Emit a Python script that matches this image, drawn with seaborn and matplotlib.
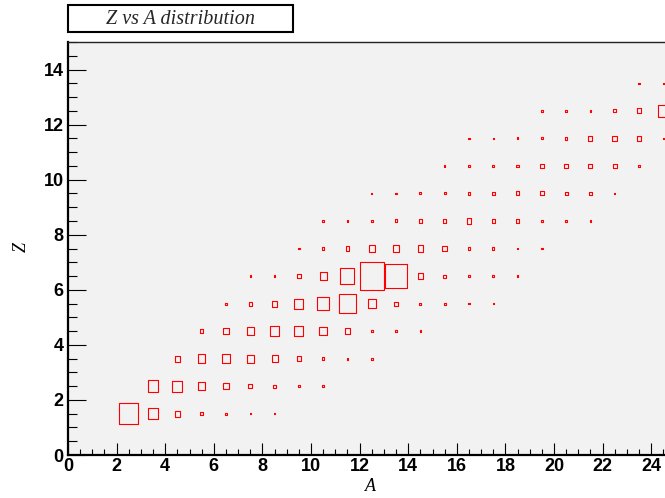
"""Z vs A distribution drawn as a ROOT-style box histogram."""
import matplotlib.pyplot as plt
import matplotlib.patches as mpatches
from matplotlib.ticker import MultipleLocator
import numpy as np
import pandas as pd
import seaborn as sns

# ---------------------------------------------------------------------------
# Data: bin contents per Z row (bin centres), starting at a_start
# ---------------------------------------------------------------------------
z_rows = [1.5, 2.5, 3.5, 4.5, 5.5, 6.5, 7.5, 8.5, 9.5, 10.5, 11.5, 12.5, 13.5]
a_start = [2.5, 3.5, 4.5, 5.5, 6.5, 7.5, 9.5, 10.5, 12.5, 15.5, 16.5, 19.5, 23.5]
row_counts = [
    [593, 176, 48, 17, 6, 3, 3],
    [176, 160, 90, 53, 26, 12, 4, 4],
    [48, 96, 109, 90, 63, 36, 12, 5, 4],
    [17, 48, 73, 116, 130, 96, 36, 10, 5, 3],
    [5, 20, 48, 130, 240, 504, 116, 20, 6, 5, 3, 3],
    [3, 6, 26, 78, 336, 1000, 810, 36, 12, 6, 4, 3],
    [3, 6, 23, 58, 68, 48, 36, 12, 6, 5, 3],
    [3, 3, 6, 12, 23, 23, 36, 20, 20, 6, 5, 3],
    [3, 3, 5, 6, 12, 14, 20, 20, 14, 10, 3],
    [3, 5, 6, 10, 20, 23, 26, 26, 3],
    [3, 3, 5, 6, 12, 26, 40, 36, 3],
    [3, 3, 6, 14, 29, 176],
    [3, 3],
]

records = []
for z, a0, counts in zip(z_rows, a_start, row_counts):
    for i, c in enumerate(counts):
        records.append({"A": a0 + i, "Z": z, "count": c})
df = pd.DataFrame(records)

# ---------------------------------------------------------------------------
# Figure
# ---------------------------------------------------------------------------
sns.set_style("ticks")
plt.rcParams["font.family"] = ["Liberation Sans", "DejaVu Sans"]

DPI = 100
fig = plt.figure(figsize=(6.65, 4.98), dpi=DPI)
ax_left, ax_bottom = 68 / 665, 43 / 498
ax_w, ax_h = 1 - ax_left, 413 / 498
ax = fig.add_axes([ax_left, ax_bottom, ax_w, ax_h])
ax.set_facecolor("#f2f2f2")

x_max = 597 / 24.3
y_max = 15

# box marker with the aspect of one bin; full bin height in points -> max area
unit_w_px = ax_w * 665 / x_max
unit_h_px = ax_h * 498 / y_max
ratio = unit_w_px / unit_h_px
box = [(-ratio, -1), (ratio, -1), (ratio, 1), (-ratio, 1), (-ratio, -1)]
s_max = (unit_h_px * 72 / DPI) ** 2

sns.scatterplot(data=df, x="A", y="Z", size="count", sizes=(0, s_max),
                size_norm=(0, df["count"].max()), marker=box, color="red",
                edgecolor="red", linewidth=0.8, legend=False, ax=ax)
ax.collections[0].set_facecolor("none")

ax.set_xlim(0, x_max)
ax.set_ylim(0, y_max)

ax.xaxis.set_major_locator(MultipleLocator(2))
ax.xaxis.set_minor_locator(MultipleLocator(0.5))
ax.yaxis.set_major_locator(MultipleLocator(2))
ax.yaxis.set_minor_locator(MultipleLocator(0.5))
ax.set_yticks(np.arange(0, 15, 2))

ax.tick_params(axis="x", which="major", direction="in", length=8.6, width=0.8,
               pad=2, labelsize=13, color="black", labelcolor="black")
ax.tick_params(axis="x", which="minor", direction="in", length=4.3, width=0.8,
               color="black")
ax.tick_params(axis="y", which="major", direction="in", length=12.7, width=0.8,
               pad=3, labelsize=13, color="black", labelcolor="black")
ax.tick_params(axis="y", which="minor", direction="in", length=6.4, width=0.8,
               color="black")
for lab in ax.get_xticklabels() + ax.get_yticklabels():
    lab.set_fontweight("bold")

for side in ["left", "bottom"]:
    ax.spines[side].set_linewidth(1.6)
    ax.spines[side].set_color("black")
ax.spines["top"].set_linewidth(1.0)
ax.spines["top"].set_color("#222222")
ax.spines["right"].set_visible(False)

serif = ["Liberation Serif", "DejaVu Serif"]
ax.set_xlabel("A", family=serif, style="italic", fontsize=13, va="center",
              color="black")
ax.xaxis.set_label_coords((370 - 68) / 597, -(486 - 455) / 413)
ax.set_ylabel("Z", family=serif, style="italic", fontsize=13, va="center",
              color="black")
ax.yaxis.set_label_coords(-(68 - 21) / 597, (455 - 247) / 413)

# title box
fig.patches.append(mpatches.Rectangle((68 / 665, 1 - 32 / 498), 225 / 665, 27 / 498,
                                      transform=fig.transFigure, facecolor="white",
                                      edgecolor="black", linewidth=1.5))
fig.text(180.5 / 665, 1 - 19.5 / 498, "Z vs A distribution", family=serif,
         style="italic", fontsize=14.5, ha="center", va="center")

fig.savefig("out.png", dpi=DPI)
